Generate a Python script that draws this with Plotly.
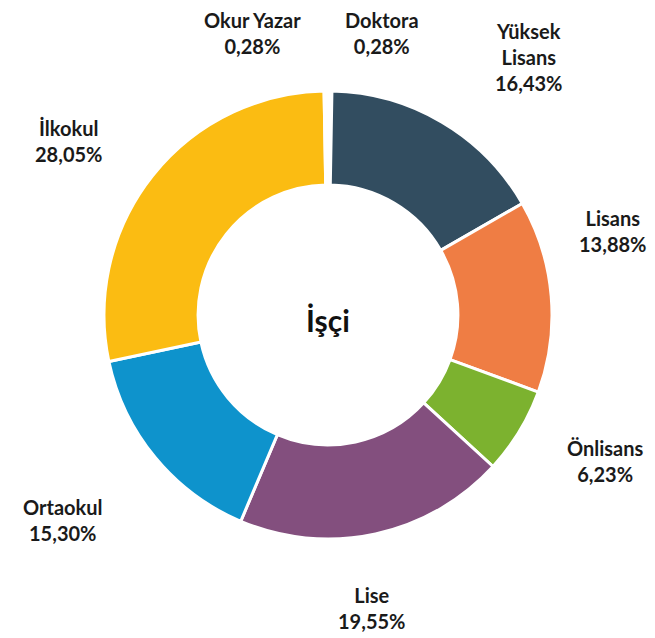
import plotly.graph_objects as go

categories = ["Doktora", "Yüksek Lisans", "Lisans", "Önlisans", "Lise", "Ortaokul", "İlkokul", "Okur Yazar"]
display_labels = ["Doktora", "Yüksek<br>Lisans", "Lisans", "Önlisans", "Lise", "Ortaokul", "İlkokul", "Okur Yazar"]
values = [0.28, 16.43, 13.88, 6.23, 19.55, 15.30, 28.05, 0.28]
colors = ["#FFFFFF", "#324D60", "#EF7D44", "#7CB22F", "#834F7E", "#0E93CC", "#FBBC12", "#FFFFFF"]
center_title = "İşçi"

# the page body has an 8px margin, so work in a 647x630 frame offset by 8px
OFF = 8
W, H = 655 - OFF, 638 - OFF

# label anchor positions in reference pixel space (x from left, y from top)
label_pos = {
    "Doktora": (382, 33),
    "Yüksek Lisans": (528, 57),
    "Lisans": (612, 231),
    "Önlisans": (605, 461),
    "Lise": (372, 608),
    "Ortaokul": (62, 520),
    "İlkokul": (68, 141),
    "Okur Yazar": (252, 33),
}

cx, cy, R = 328 - OFF, 315 - OFF, 224

fig = go.Figure(go.Pie(
    labels=categories,
    values=values,
    sort=False,
    direction="clockwise",
    rotation=0,
    hole=0.58,
    marker=dict(colors=colors, line=dict(color="#FFFFFF", width=3)),
    textinfo="none",
    hoverinfo="label+percent",
    showlegend=False,
    domain=dict(x=[(cx - R) / W, (cx + R) / W], y=[(H - cy - R) / H, (H - cy + R) / H]),
))

def fmt(v):
    return f"{v:.2f}".replace(".", ",") + "%"

for cat, disp, v in zip(categories, display_labels, values):
    px, py = label_pos[cat]
    fig.add_annotation(
        x=(px - OFF) / W, y=1 - (py - OFF) / H, xref="paper", yref="paper",
        text=f"<b>{disp}<br>{fmt(v)}</b>",
        showarrow=False, xanchor="center", yanchor="middle",
        font=dict(family="Lato, Open Sans, sans-serif", size=20, color="#1a1a1a"),
    )

fig.add_annotation(
    x=(328 - OFF) / W, y=1 - (320 - OFF) / H, xref="paper", yref="paper",
    text=f"<b>{center_title}</b>", showarrow=False,
    font=dict(family="Lato, Open Sans, sans-serif", size=30, color="#111111"),
)

fig.update_layout(
    width=W, height=H,
    margin=dict(l=0, r=0, t=0, b=0),
    paper_bgcolor="#FFFFFF", plot_bgcolor="#FFFFFF",
)

fig.write_html("out.html")
